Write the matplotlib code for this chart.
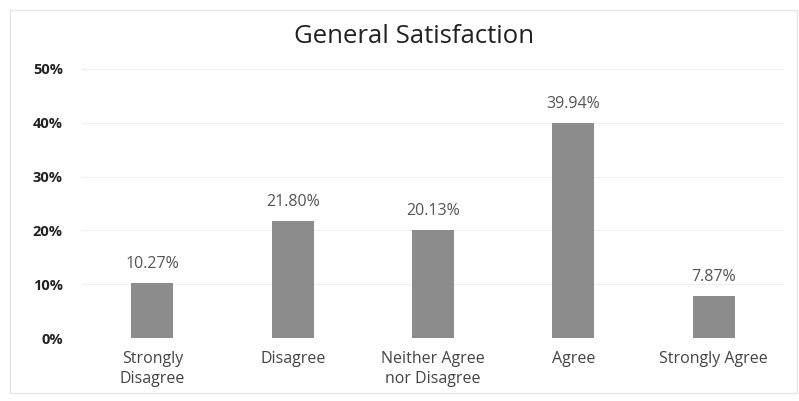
import matplotlib
matplotlib.use("Agg")
import matplotlib.pyplot as plt
from matplotlib.ticker import PercentFormatter

plt.rcParams['font.family'] = ['Open Sans', 'DejaVu Sans']

categories = ['Strongly\nDisagree', 'Disagree', 'Neither Agree\nnor Disagree', 'Agree', 'Strongly Agree']
percents = [10.27, 21.80, 20.13, 39.94, 7.87]
y_ticks = [0, 10, 20, 30, 40, 50]

fig = plt.figure(figsize=(7.99, 4.01), dpi=100)
ax = fig.add_axes([0.103, 0.157, 0.878, 0.671])

x = range(len(categories))
bars = ax.bar(x, percents, width=0.3, color='#8c8c8c', zorder=2)

for b, v in zip(bars, percents):
    ax.text(b.get_x() + b.get_width() / 2, v + 2.0, '{:.2f}%'.format(v),
            ha='center', va='bottom', fontsize=11.5, color='#555555')

ax.set_xlim(-0.5, len(categories) - 0.5)
ax.set_ylim(0, 50)
ax.set_yticks(y_ticks)
ax.yaxis.set_major_formatter(PercentFormatter(decimals=0))
ax.grid(axis='y', color='#f0f0f0', linewidth=0.8, zorder=0)
ax.set_xticks(list(x))
ax.set_xticklabels(categories, fontsize=11.5, color='#444444', linespacing=1.35)
for lbl in ax.get_yticklabels():
    lbl.set_fontweight('bold')
    lbl.set_fontsize(10.5)
    lbl.set_color('#222222')
ax.tick_params(axis='both', length=0)
ax.tick_params(axis='y', pad=14)
ax.tick_params(axis='x', pad=9)
for s in ax.spines.values():
    s.set_visible(False)

fig.text(0.518, 0.91, 'General Satisfaction', ha='center', va='center',
         fontsize=18.5, color='#222222')

# faint outer frame like the pasted picture
fig.add_artist(plt.Rectangle((0.012, 0.02), 0.985, 0.955, transform=fig.transFigure,
                             fill=False, edgecolor='#e6e6e6', linewidth=1))

fig.savefig('out.png', dpi=100, facecolor='white')
